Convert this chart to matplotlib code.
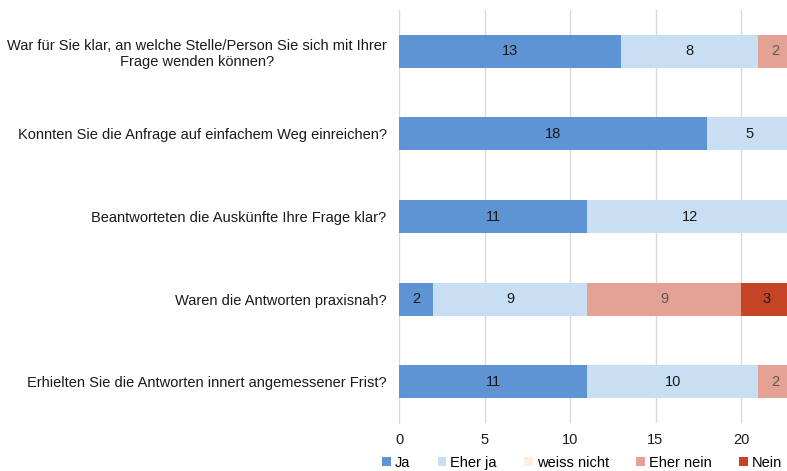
import numpy as np
import matplotlib.pyplot as plt

plt.rcParams['font.family'] = ['Liberation Sans', 'DejaVu Sans']

questions = [
    "War für Sie klar, an welche Stelle/Person Sie sich mit Ihrer\nFrage wenden können?",
    "Konnten Sie die Anfrage auf einfachem Weg einreichen?",
    "Beantworteten die Auskünfte Ihre Frage klar?",
    "Waren die Antworten praxisnah?",
    "Erhielten Sie die Antworten innert angemessener Frist?",
]
series_names = ["Ja", "Eher ja", "weiss nicht", "Eher nein", "Nein"]
ja = [13, 18, 11, 2, 11]
eher_ja = [8, 5, 12, 9, 10]
weiss_nicht = [0, 0, 0, 0, 0]
eher_nein = [2, 0, 0, 9, 2]
nein = [0, 0, 0, 3, 0]

colors = ["#5F94D4", "#C8DFF3", "#FDEEE2", "#E4A294", "#C64426"]
label_colors = ["#1a1a1a", "#1a1a1a", "#1a1a1a", "#595959", "#1a1a1a"]

fig = plt.figure(figsize=(7.87, 4.71), dpi=100)
ax = fig.add_axes([399 / 787, 1 - 423 / 471, (792.3 - 399) / 787, (423 - 10) / 471])

y = np.arange(len(questions))
left = np.zeros(len(questions))
for name, vals, c, lc in zip(series_names, [ja, eher_ja, weiss_nicht, eher_nein, nein], colors, label_colors):
    vals = np.array(vals, dtype=float)
    bars = ax.barh(y, vals, left=left, height=0.4, color=c, label=name, zorder=3)
    for b, v in zip(bars, vals):
        if v > 0:
            ax.text(b.get_x() + b.get_width() / 2, b.get_y() + b.get_height() / 2, f"{int(v)}",
                    ha="center", va="center", fontsize=10.5, color=lc, zorder=4)
    left += vals

ax.set_xlim(0, 23)
ax.set_ylim(len(questions) - 0.5, -0.5)
ax.set_xticks([0, 5, 10, 15, 20])
ax.set_yticks(y)
ax.set_yticklabels(questions, fontsize=10.5, color="#1a1a1a", multialignment="center")
ax.tick_params(axis="y", length=0, pad=9)
ax.tick_params(axis="x", length=0, pad=7, labelsize=10.5, labelcolor="#1a1a1a")
ax.grid(axis="x", color="#D9D9D9", linewidth=1, zorder=0)
for s in ["top", "right", "bottom"]:
    ax.spines[s].set_visible(False)
ax.spines["left"].set_color("#D9D9D9")

ax.legend(loc="center", bbox_to_anchor=(582 / 787, 1 - 463 / 471), bbox_transform=fig.transFigure,
          ncol=5, frameon=False, fontsize=10.5, handlelength=0.6, handleheight=0.6,
          handletextpad=0.25, columnspacing=1.9)

fig.savefig("out.png", dpi=100)
